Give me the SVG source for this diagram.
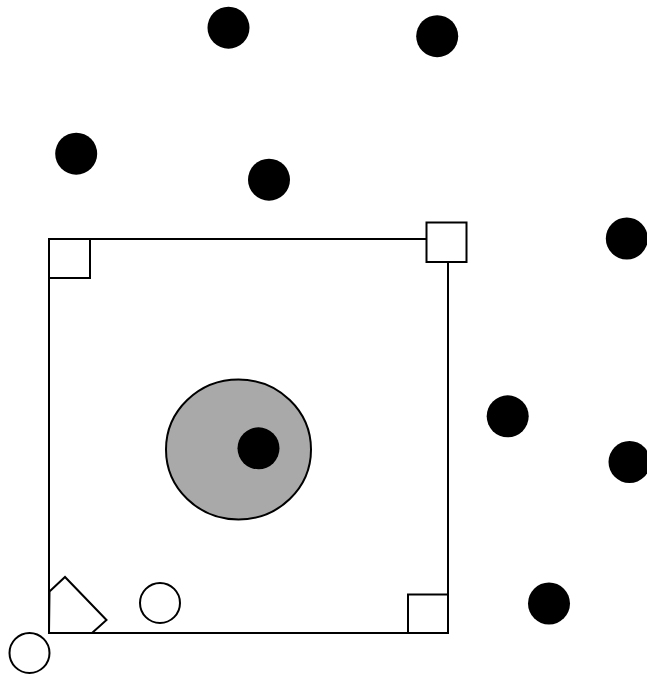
<svg xmlns="http://www.w3.org/2000/svg" width="647" height="674" viewBox="0 0 647 674">
<style>
.dot{fill:#000}
.outline{fill:#fff;stroke:#000;stroke-width:2}
.open{fill:none;stroke:#000;stroke-width:2}
</style>
<rect width="647" height="674" fill="#fff"/>
<g id="frame"><rect class="open" x="49" y="239" width="399" height="394"/></g>
<g id="gray-disc"><ellipse cx="238.5" cy="449.5" rx="72.5" ry="70" fill="#a9a9a9" stroke="#000" stroke-width="2"/></g>
<g id="center-dot"><circle class="dot" cx="258.5" cy="448.3" r="21"/></g>
<g id="sq-tl"><rect class="outline" x="49" y="239" width="41" height="39"/></g>
<g id="sq-tr"><rect class="outline" x="426.5" y="222.5" width="40" height="39.5"/></g>
<g id="sq-br"><rect class="outline" x="408" y="594.5" width="40" height="38.5"/></g>
<g id="pentagon"><polygon class="outline" points="49.5,591.5 65,577 106.5,620 92,633 49,633"/></g>
<g id="ring-1"><circle class="outline" cx="160" cy="603" r="20"/></g>
<g id="ring-2"><circle class="outline" cx="29.5" cy="653" r="20"/></g>
<g id="d1"><circle class="dot" cx="228.5" cy="27.7" r="21"/></g>
<g id="d2"><circle class="dot" cx="437.2" cy="36.2" r="21"/></g>
<g id="d3"><circle class="dot" cx="76.2" cy="153.7" r="21"/></g>
<g id="d4"><circle class="dot" cx="269" cy="179.7" r="21"/></g>
<g id="d5"><circle class="dot" cx="626.8" cy="238.5" r="21"/></g>
<g id="d6"><circle class="dot" cx="507.7" cy="416.3" r="21"/></g>
<g id="d7"><circle class="dot" cx="629.5" cy="462" r="21"/></g>
<g id="d8"><circle class="dot" cx="549" cy="603.5" r="21"/></g>
<g id="connectors"></g>
</svg>
